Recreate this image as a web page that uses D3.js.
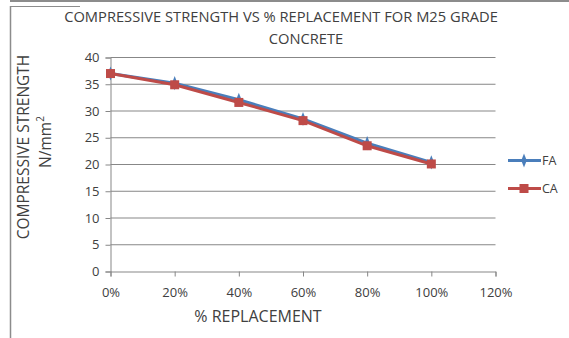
<!DOCTYPE html>
<html>
<head>
<meta charset="utf-8">
<script src="https://cdn.jsdelivr.net/npm/d3@7"></script>
<style>
  body { margin: 0; background: #fff; }
  text { font-family: "Open Sans", "Liberation Sans", sans-serif; fill: #404040; }
</style>
</head>
<body>
<script>
// Data
const replacement = [0, 0.2, 0.4, 0.6, 0.8, 1.0];
const fa = [37, 35.2, 32.1, 28.5, 24, 20.4];
const ca = [37, 34.9, 31.6, 28.2, 23.5, 20.1];
const xTicks = [0, 0.2, 0.4, 0.6, 0.8, 1.0, 1.2];
const yTicks = [0, 5, 10, 15, 20, 25, 30, 35, 40];

const W = 569, H = 338;
const svg = d3.select("body").append("svg")
    .attr("width", W)
    .attr("height", H);

// outer frame
svg.append("line").attr("x1", 10).attr("x2", W).attr("y1", 1).attr("y2", 1)
    .style("stroke", "#8c8c8c").style("stroke-width", 2);
svg.append("line").attr("x1", 10.5).attr("x2", 10.5).attr("y1", 6).attr("y2", H)
    .style("stroke", "#8c8c8c").style("stroke-width", 1.5);
svg.append("line").attr("x1", 10).attr("x2", 80).attr("y1", 6.5).attr("y2", 6.5)
    .style("stroke", "#8c8c8c").style("stroke-width", 1);

// Scales
const x = d3.scaleLinear().domain([0, 1.2]).range([110.5, 495.5]);
const y = d3.scaleLinear().domain([0, 40]).range([271.5, 57.5]);

// gridlines
svg.append("g")
    .selectAll("line")
    .data(yTicks.filter(d => d > 0))
    .enter().append("line")
        .attr("x1", x(0)).attr("x2", x(1.2))
        .attr("y1", d => y(d)).attr("y2", d => y(d))
        .style("stroke", "#878787").style("stroke-width", 1);

// axes
const yAxis = svg.append("g")
    .attr("transform", `translate(${x(0)},0)`)
    .call(d3.axisLeft(y).tickValues(yTicks).tickSize(5).tickPadding(6));
const xAxis = svg.append("g")
    .attr("transform", `translate(0,${y(0)})`)
    .call(d3.axisBottom(x).tickValues(xTicks).tickSize(5).tickPadding(11)
        .tickFormat(d3.format(".0%")));
[yAxis, xAxis].forEach(a => {
    a.selectAll("path, line").style("stroke", "#878787");
    a.selectAll("text").style("font-size", "13px").style("fill", "#404040")
        .style("font-family", "'Open Sans', sans-serif");
});

// series
const line = d3.line()
    .x((d, i) => x(replacement[i]))
    .y(d => y(d));

const blue = "#4a7ebb", red = "#be4b48";

svg.append("path").datum(fa)
    .attr("d", line)
    .style("fill", "none").style("stroke", blue).style("stroke-width", 3);
svg.append("g").selectAll("path").data(fa).enter().append("path")
    .attr("d", d3.symbol(d3.symbolDiamond, 40))
    .attr("transform", (d, i) => `translate(${x(replacement[i])},${y(d)}) scale(0.8,1.2)`)
    .style("fill", blue);

svg.append("path").datum(ca)
    .attr("d", line)
    .style("fill", "none").style("stroke", red).style("stroke-width", 3);
svg.append("g").selectAll("rect").data(ca).enter().append("rect")
    .attr("x", (d, i) => x(replacement[i]) - 4.5)
    .attr("y", d => y(d) - 4.5)
    .attr("width", 9).attr("height", 9)
    .style("fill", red);

// legend
const legend = [{name: "FA", color: blue, y: 160.5}, {name: "CA", color: red, y: 188.5}];
const lg = svg.append("g").selectAll("g").data(legend).enter().append("g");
lg.append("line")
    .attr("x1", 508).attr("x2", 541)
    .attr("y1", d => d.y).attr("y2", d => d.y)
    .style("stroke", d => d.color).style("stroke-width", 3);
lg.filter(d => d.name === "FA").append("path")
    .attr("d", d3.symbol(d3.symbolDiamond, 40))
    .attr("transform", d => `translate(524,${d.y}) scale(0.8,1.2)`)
    .style("fill", d => d.color);
lg.filter(d => d.name === "CA").append("rect")
    .attr("x", 519.5).attr("y", d => d.y - 4.5)
    .attr("width", 9).attr("height", 9)
    .style("fill", d => d.color);
lg.append("text")
    .attr("x", 542).attr("y", d => d.y + 4.5)
    .style("font-size", "12.5px")
    .text(d => d.name);

// titles
svg.append("text")
    .attr("x", 281).attr("y", 22)
    .attr("text-anchor", "middle")
    .style("font-size", "14.7px")
    .text("COMPRESSIVE STRENGTH VS % REPLACEMENT FOR M25 GRADE");
svg.append("text")
    .attr("x", 306).attr("y", 44)
    .attr("text-anchor", "middle")
    .style("font-size", "14.7px")
    .text("CONCRETE");

svg.append("text")
    .attr("x", 258).attr("y", 322)
    .attr("text-anchor", "middle")
    .style("font-size", "16px")
    .text("% REPLACEMENT");

const yl = svg.append("text")
    .attr("transform", "translate(29,147) rotate(-90)")
    .attr("text-anchor", "middle")
    .style("font-size", "15.5px");
yl.append("tspan").attr("x", 0).attr("dy", 0).text("COMPRESSIVE STRENGTH");
const yl2 = svg.append("text")
    .attr("transform", "translate(51,142) rotate(-90)")
    .attr("text-anchor", "middle")
    .style("font-size", "15.5px");
yl2.append("tspan").text("N/mm");
yl2.append("tspan").attr("dy", -7).style("font-size", "10px").text("2");
</script>
</body>
</html>
